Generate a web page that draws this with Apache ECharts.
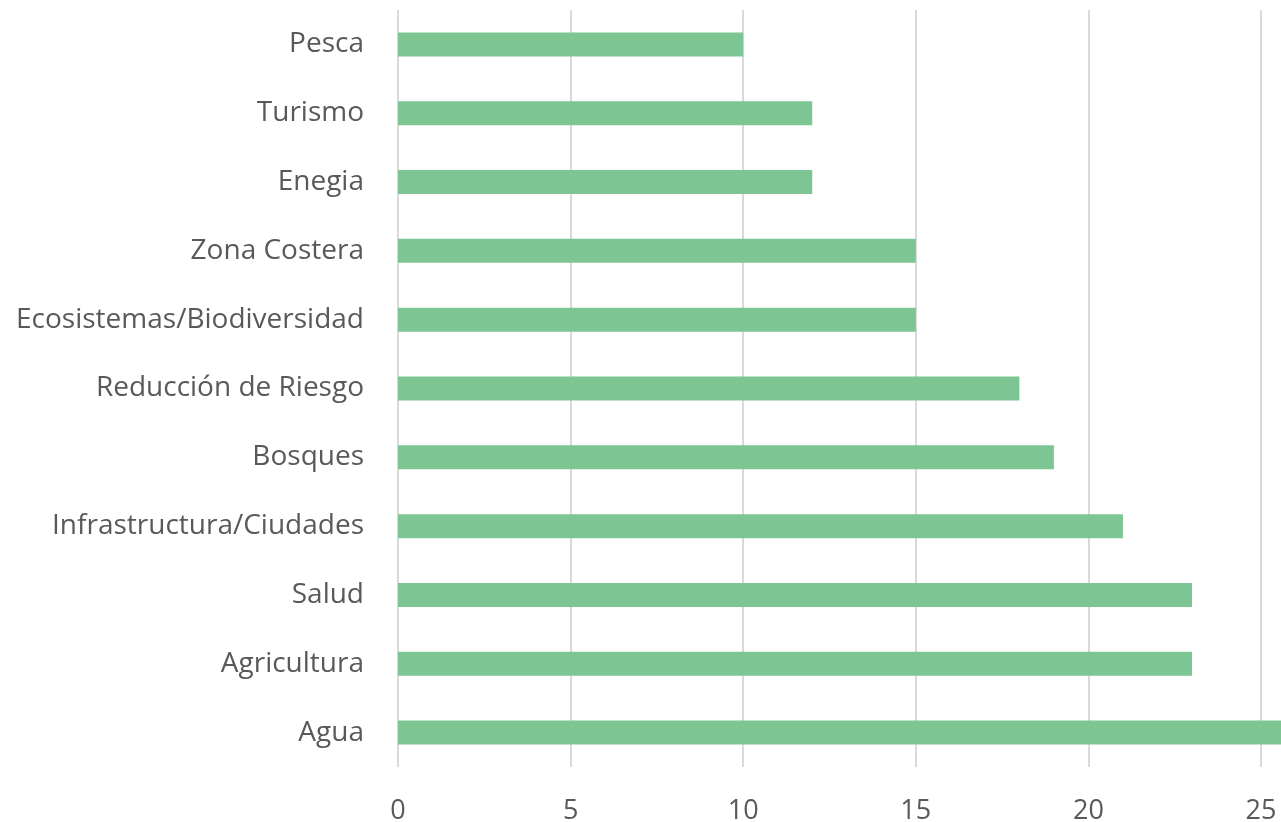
<!DOCTYPE html>
<html><head><meta charset="utf-8">
<script src="https://cdn.jsdelivr.net/npm/echarts@6/dist/echarts.min.js"></script>
<style>html,body{margin:0;padding:0;background:#fff}#c{width:1281px;height:822px}</style>
</head><body><div id="c"></div>
<script>
const categories = ["Pesca","Turismo","Enegia","Zona Costera","Ecosistemas/Biodiversidad","Reducción de Riesgo","Bosques","Infrastructura/Ciudades","Salud","Agricultura","Agua"];
const values = [10,12,12,15,15,18,19,21,23,23,26];
const xTicks = [0,5,10,15,20,25,30];

const chart = echarts.init(document.getElementById('c'), null, {renderer:'canvas'});
chart.setOption({
  animation:false,
  grid:{left:398, width:30*34.52, top:10, height:757, containLabel:false, outerBoundsMode:'none'},
  xAxis:{type:'value', min:xTicks[0], max:xTicks[xTicks.length-1], interval:5,
    axisLine:{show:false}, axisTick:{show:false},
    splitLine:{show:true, lineStyle:{color:'#d9d9d9', width:2}},
    axisLabel:{color:'#595959', fontSize:27, fontFamily:'Open Sans', margin:31}},
  yAxis:{type:'category', data:categories, inverse:true,
    axisLine:{show:false}, axisTick:{show:false},
    axisLabel:{color:'#595959', fontSize:28, fontFamily:'Open Sans', margin:34}},
  series:[{type:'bar', data:values, barWidth:24, itemStyle:{color:'#7DC592'}}]
});
</script></body></html>
